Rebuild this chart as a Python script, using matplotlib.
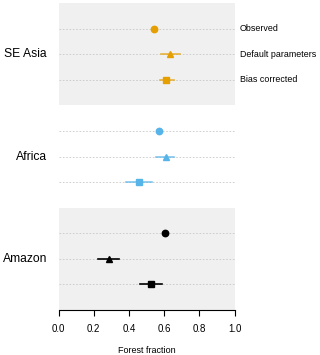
import matplotlib.pyplot as plt

plt.rcParams['font.family'] = ['Liberation Sans', 'DejaVu Sans']

regions = ["SE Asia", "Africa", "Amazon"]
colors = ["#E69F00", "#56B4E9", "black"]
series = ["Observed", "Default parameters", "Bias corrected"]
markers = ["o", "^", "s"]

# values per region: observed, default, bias corrected
values = [
    [0.54, 0.636, 0.613],
    [0.568, 0.608, 0.458],
    [0.602, 0.288, 0.523],
]
lower = [
    [None, 0.58, 0.575],
    [None, 0.553, 0.384],
    [None, 0.225, 0.462],
]
upper = [
    [None, 0.69, 0.655],
    [None, 0.657, 0.53],
    [None, 0.344, 0.585],
]

fig = plt.figure(figsize=(3.2, 3.55), dpi=100)
ax = fig.add_axes([0.183, 0.127, 0.55, 0.864])

for i, region in enumerate(regions):
    top = i * 4
    if i != 1:
        ax.axhspan(top, top + 4, color="#F0F0F0", zorder=0, lw=0)
    for j in range(3):
        y = top + 1 + j
        ax.plot([0, 1], [y, y], ls=(0, (2, 2)), color="#C8C8C8", lw=0.6, zorder=1)
        if lower[i][j] is not None:
            ax.plot([lower[i][j], upper[i][j]], [y, y], color=colors[i],
                    lw=1.2, alpha=0.75 if i < 2 else 1, zorder=2)
        ax.plot(values[i][j], y, marker=markers[j], color=colors[i],
                ms=4.6, ls="none", zorder=3)
    ax.text(-0.065, top + 2, region, ha="right", va="center", fontsize=8.7)

for j, s in enumerate(series):
    ax.text(1.03, 1 + j, s, ha="left", va="center", fontsize=6.4, clip_on=False)

ax.set_xlim(0, 1)
ax.set_ylim(12, 0)
ax.set_yticks([])
for side in ["top", "right", "left"]:
    ax.spines[side].set_visible(False)
ax.spines["bottom"].set_linewidth(0.8)
ax.set_xticks([0, 0.2, 0.4, 0.6, 0.8, 1.0])
ax.set_xticklabels(["0.0", "0.2", "0.4", "0.6", "0.8", "1.0"])
ax.tick_params(axis="x", labelsize=7, length=4, width=0.8, pad=6)
ax.set_xlabel("Forest fraction", fontsize=6.5, labelpad=9)
ax.set_facecolor("none")

fig.savefig("out.png", dpi=100)
